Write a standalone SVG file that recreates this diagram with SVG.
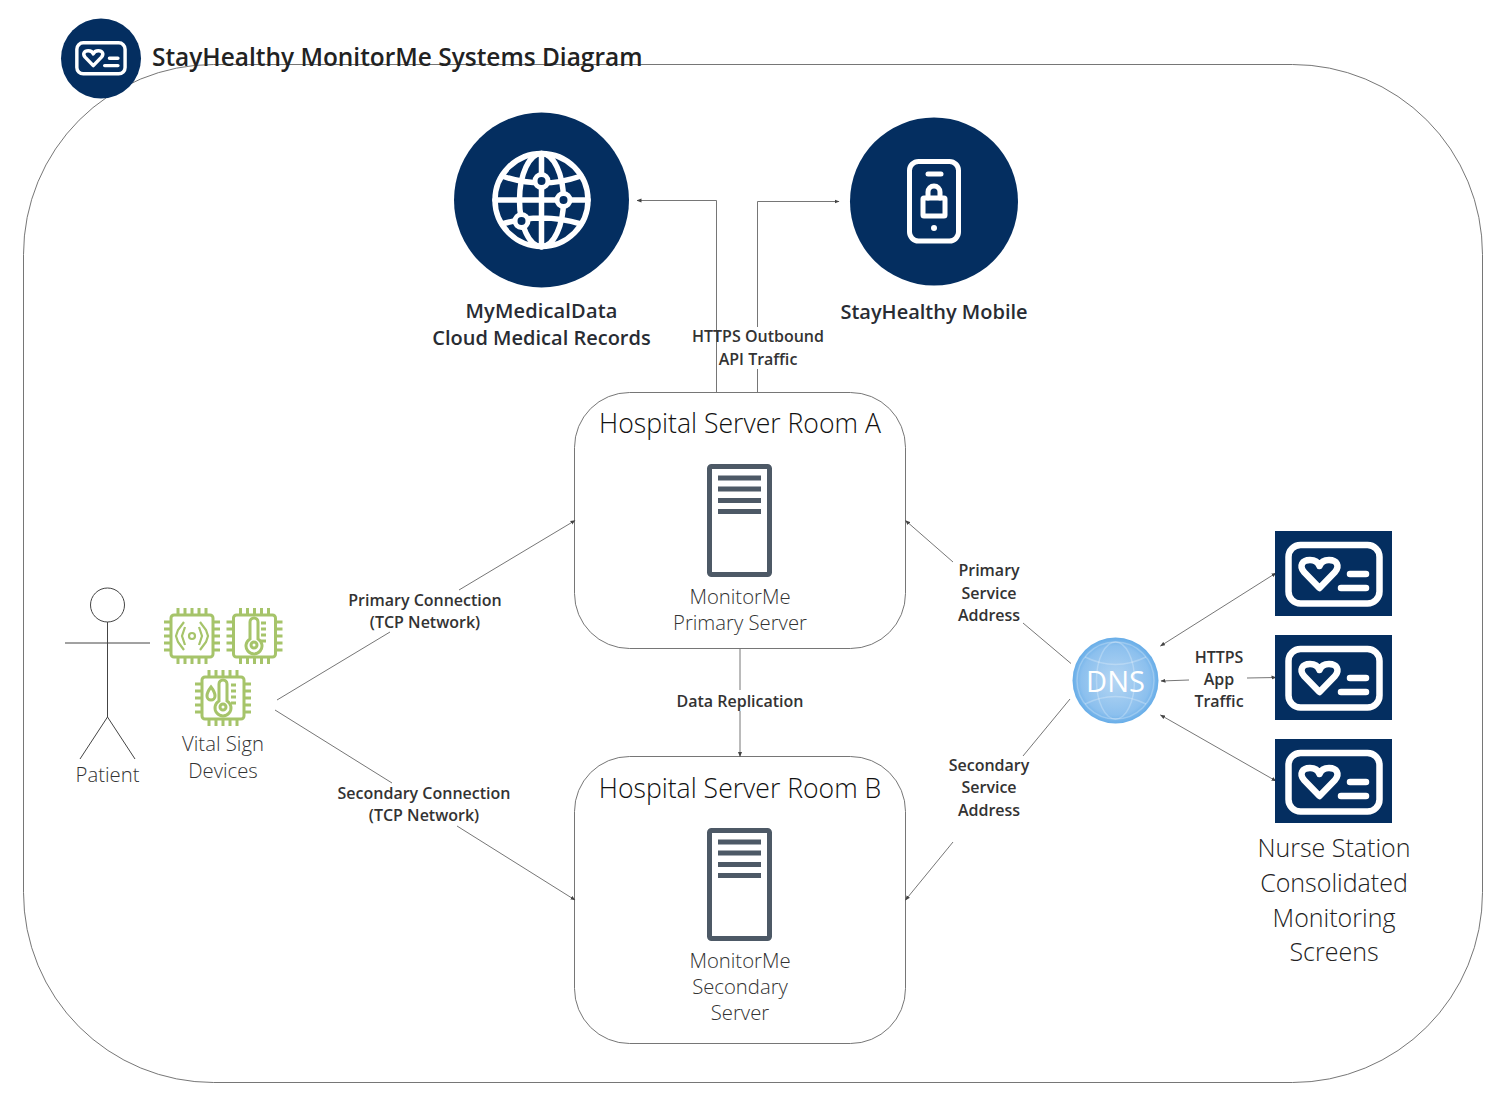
<svg xmlns="http://www.w3.org/2000/svg" width="1504" height="1107" viewBox="0 0 1504 1107">
<style>
text{font-family:"Open Sans","Noto Sans","DejaVu Sans",sans-serif;text-anchor:middle}
.lbl{font-size:16px;font-weight:600;fill:#333}
.node{font-size:20.300px;font-weight:300;fill:#333}
.room{font-size:26.600px;font-weight:300;fill:#111}
.big{font-size:20px;font-weight:600;fill:#282c33}
.nurse{font-size:25px;font-weight:300;fill:#222}
.box{fill:#fff;stroke:#666;stroke-width:.9}
.c{fill:none;stroke:#666;stroke-width:.9}
.s{fill:none;stroke:#fff;stroke-linecap:round;stroke-linejoin:round}
.g{fill:none;stroke:#a6c46a;stroke-width:3}
.st{fill:none;stroke:#444;stroke-width:1}
</style>
<defs>
<marker id="a" markerWidth="5" markerHeight="5" refX="4.500" refY="2.500" orient="auto-start-reverse" markerUnits="userSpaceOnUse"><path d="M0 0.500L5 2.500L0 4.500Z" fill="#444"/></marker>
<g id="card"><rect x="13.500" y="14" width="91" height="58.500" rx="12" class="s" stroke-width="6.500"/><path class="s" stroke-width="6.500" d="M44.500 57L29 41C24 35 27 29 35 29C39 29 43 31 44.500 35C46 31 50 29 54 29C62 29 65 35 60 41Z"/><path class="s" stroke-width="6.500" d="M75 43H91M66 57H91"/></g>
<g id="server"><rect x="2.500" y="2.500" width="60" height="108" rx="2" fill="none" stroke="#4d5966" stroke-width="5"/><path d="M11 14H54M11 25H54M11 36.500H54M11 47.500H54" stroke="#4d5966" stroke-width="5"/></g>
<g id="chip"><rect x="-21" y="-21" width="42" height="42" rx="3" class="g"/><path class="g" d="M-14-21v-7M-7-21v-7M0-21v-7M7-21v-7M14-21v-7M-14 21v7M-7 21v7M0 21v7M7 21v7M14 21v7M-21-14h-7M-21-7h-7M-21 0h-7M-21 7h-7M-21 14h-7M21-14h7M21-7h7M21 0h7M21 7h7M21 14h7"/></g>
<g id="therm"><path class="g" d="M-4 3V-14A4 4 0 0 1 4-14V3A8 8 0 1 1-4 3Z"/><circle cx="0" cy="9" r="3" class="g"/></g>
<radialGradient id="dns"><stop offset="0" stop-color="#b5d6f3"/><stop offset=".8" stop-color="#8cc0ee"/><stop offset="1" stop-color="#67ade8"/></radialGradient>
</defs>

<g id="outer-boundary"><rect x="23.500" y="64.500" width="1459" height="1018" rx="190" class="box"/></g>

<g id="title"><circle cx="101" cy="58.500" r="40" fill="#042e60"/><use href="#card" transform="translate(69.700,35.400) scale(.53)"/><text x="152" y="65.500" style="text-anchor:start;font-size:24.450px;font-weight:600;fill:#222">StayHealthy MonitorMe Systems Diagram</text></g>

<g id="room-a"><rect x="574.500" y="392.500" width="331" height="256" rx="55" class="box"/><text x="740" y="433" class="room">Hospital Server Room A</text><use href="#server" x="707" y="464"/><text x="740" y="604" class="node">MonitorMe</text><text x="740" y="630" class="node">Primary Server</text></g>

<g id="room-b"><rect x="574.500" y="756.500" width="331" height="287" rx="55" class="box"/><text x="740" y="798" class="room">Hospital Server Room B</text><use href="#server" x="707" y="828"/><text x="740" y="968" class="node">MonitorMe</text><text x="740" y="994" class="node">Secondary</text><text x="740" y="1020" class="node">Server</text></g>

<g id="connectors">
<path class="c" marker-end="url(#a)" d="M716.500 392V200.500H637"/>
<path class="c" d="M757.500 392V369"/>
<path class="c" marker-end="url(#a)" d="M757.500 327V201.500H839"/>
<path class="c" d="M740 649V690"/>
<path class="c" marker-end="url(#a)" d="M740 711V756.500"/>
<path class="c" d="M277 700L390 632"/>
<path class="c" marker-end="url(#a)" d="M459 590L575 520.500"/>
<path class="c" d="M275 710L392 783"/>
<path class="c" marker-end="url(#a)" d="M457 826L575 900"/>
<path class="c" d="M1071 663.500L1023 623"/>
<path class="c" marker-end="url(#a)" d="M953 562L905.500 520.500"/>
<path class="c" d="M1070 699L1023 756"/>
<path class="c" marker-end="url(#a)" d="M953 842L905.500 900"/>
<path class="c" marker-start="url(#a)" marker-end="url(#a)" d="M1160.500 646L1276 573"/>
<path class="c" marker-start="url(#a)" marker-end="url(#a)" d="M1160.500 715L1276 781"/>
<path class="c" marker-end="url(#a)" d="M1189 680L1161 681"/>
<path class="c" marker-end="url(#a)" d="M1247 678L1276 677.500"/>
</g>

<g id="connector-labels">
<text x="758" y="342" class="lbl">HTTPS Outbound</text><text x="758" y="364.500" class="lbl">API Traffic</text>
<text x="740" y="707" class="lbl">Data Replication</text>
<text x="425" y="606" class="lbl">Primary Connection</text><text x="425" y="628" class="lbl">(TCP Network)</text>
<text x="424" y="799" class="lbl">Secondary Connection</text><text x="424" y="821" class="lbl">(TCP Network)</text>
<text x="989" y="576" class="lbl">Primary</text><text x="989" y="599" class="lbl">Service</text><text x="989" y="621" class="lbl">Address</text>
<text x="989" y="771" class="lbl">Secondary</text><text x="989" y="793" class="lbl">Service</text><text x="989" y="816" class="lbl">Address</text>
<text x="1219" y="663" class="lbl">HTTPS</text><text x="1219" y="685" class="lbl">App</text><text x="1219" y="707" class="lbl">Traffic</text>
</g>

<g id="mymedicaldata"><circle cx="541.500" cy="200" r="87.500" fill="#042e60"/>
<g class="s" stroke-width="5.500"><circle cx="541.500" cy="200" r="46.500"/><ellipse cx="541.500" cy="200" rx="22" ry="46.500"/><path d="M541.500 153.500V247M495 200H588M502 176Q541.500 190 581 176M502 224Q541.500 212 581 224"/></g>
<g fill="#042e60" stroke="#fff" stroke-width="5"><circle cx="541.500" cy="181" r="6.500"/><circle cx="563.500" cy="200" r="6.500"/><circle cx="521.500" cy="221" r="6.500"/></g>
<text x="541.500" y="318" class="big" style="letter-spacing:.15px">MyMedicalData</text><text x="541.500" y="345" class="big">Cloud Medical Records</text></g>

<g id="stayhealthy-mobile"><circle cx="934" cy="201.500" r="84" fill="#042e60"/>
<g class="s" stroke-width="5"><rect x="909.500" y="161.500" width="49" height="79.500" rx="9"/><path d="M928 174H941"/><rect x="923" y="198" width="22" height="18" rx="1"/><path d="M928 198V192A6 6 0 0 1 940 192V198"/></g><circle cx="934" cy="228" r="3" fill="#fff"/>
<text x="934" y="318.500" class="big">StayHealthy Mobile</text></g>

<g id="patient" class="st"><circle cx="107.500" cy="605" r="17"/><path d="M107.500 622V717M65 643H150M107.500 717L80 759M107.500 717L135 759"/><text x="107.500" y="782" style="font-size:20.300px;font-weight:300;fill:#333;stroke:none">Patient</text></g>

<g id="vital-sign-devices">
<use href="#chip" transform="translate(192,636)"/>
<g class="g" style="stroke-width:2.200"><circle cx="192" cy="636" r="3"/><path d="M184 622L178 630L176 636L178 642L184 650M185 627L182 636L185 645M200 622L206 630L208 636L206 642L200 650M199 627L202 636L199 645"/></g>
<use href="#chip" transform="translate(254.500,636)"/><use href="#therm" transform="translate(254,636)"/><path class="g" d="M261 623H266M261 629H266M261 635H266M261 641H266"/>
<use href="#chip" transform="translate(223,698)"/><use href="#therm" transform="translate(223,698)"/><path class="g" d="M231 685H236M231 691H236M231 697H236M231 703H236"/><path class="g" d="M211 687Q207 692 207 696A4 4 0 0 0 215 696Q215 692 211 687Z"/>
<text x="223" y="751" class="node">Vital Sign</text><text x="223" y="778" class="node">Devices</text></g>

<g id="dns-node"><circle cx="1115.500" cy="680.500" r="43" fill="url(#dns)"/><g fill="none" stroke="#fff" stroke-opacity=".25" stroke-width="1.500"><circle cx="1115.500" cy="680.500" r="38.500"/><ellipse cx="1115.500" cy="680.500" rx="19" ry="38.500"/><path d="M1085 657Q1115.500 672 1146 657M1085 704Q1115.500 689 1146 704"/></g><text x="1115.500" y="691.500" style="font-size:29px;fill:#fff;font-weight:400">DNS</text></g>

<g id="nurse-station">
<rect x="1275" y="531" width="117" height="85" fill="#042e60"/><use href="#card" x="1275" y="531"/>
<rect x="1275" y="635" width="117" height="85" fill="#042e60"/><use href="#card" x="1275" y="635"/>
<rect x="1275" y="739" width="117" height="84" fill="#042e60"/><use href="#card" x="1275" y="739"/>
<text x="1334" y="857" class="nurse">Nurse Station</text><text x="1334" y="892" class="nurse">Consolidated</text><text x="1334" y="927" class="nurse">Monitoring</text><text x="1334" y="961" class="nurse">Screens</text></g>
</svg>
